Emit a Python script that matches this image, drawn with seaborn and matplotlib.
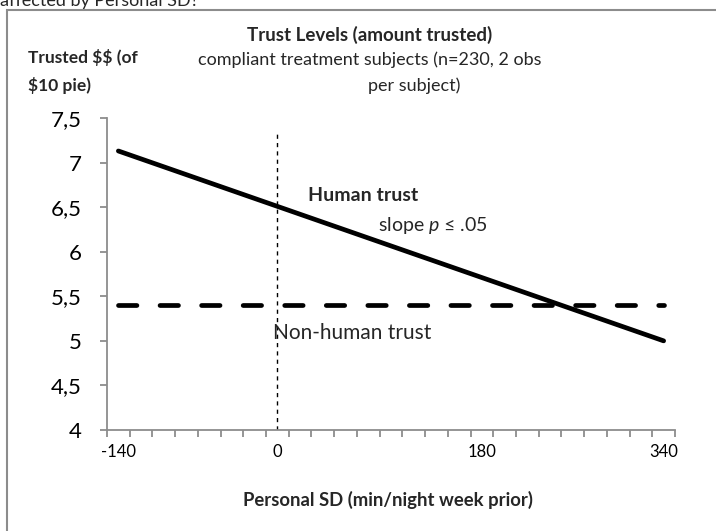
import numpy as np
import pandas as pd
import matplotlib
matplotlib.use("Agg")
import matplotlib.pyplot as plt
import seaborn as sns
from matplotlib.ticker import MultipleLocator, FixedLocator
from matplotlib.patches import Rectangle

# ------------------------
# data
# ------------------------
x_ends = [-140, 340]
human_trust = [7.13, 5.0]
nonhuman_trust = [5.4, 5.4]
ref_x = [0, 0]
ref_y = [4, 7.35]

x_ticks = [-140, 0, 180, 340]
x_tick_labels = ["-140", "0", "180", "340"]
y_ticks = [4, 4.5, 5, 5.5, 6, 6.5, 7, 7.5]
y_tick_labels = ["4", "4,5", "5", "5,5", "6", "6,5", "7", "7,5"]

df = pd.DataFrame({
    "sd": x_ends * 2,
    "trust": human_trust + nonhuman_trust,
    "group": ["Human trust"] * 2 + ["Non-human trust"] * 2,
})

# ------------------------
# style
# ------------------------
sns.set_style("white")
plt.rcParams["font.family"] = ["Lato", "DejaVu Sans"]
plt.rcParams["mathtext.fontset"] = "custom"
plt.rcParams["mathtext.it"] = "Lato:italic"
plt.rcParams["mathtext.rm"] = "Lato"

fig = plt.figure(figsize=(7.16, 5.31), dpi=100)
ax = fig.add_axes([107 / 716, 101 / 531, 568 / 716, 312 / 531])

sns.lineplot(data=df[df.group == "Human trust"], x="sd", y="trust",
             color="black", linewidth=3.4, ax=ax, legend=False)
sns.lineplot(data=df[df.group == "Non-human trust"], x="sd", y="trust",
             color="black", linewidth=3.4, ax=ax, legend=False)
ax.lines[1].set_dashes([3.9, 4.9])
ax.lines[1].set_dash_capstyle("round")
ax.lines[0].set_solid_capstyle("round")
ax.plot(ref_x, ref_y, color="black", linewidth=1, linestyle=(0, (3, 3)))

ax.set_xlim(-150, 350)
ax.set_ylim(4, 7.5)
ax.xaxis.set_major_locator(FixedLocator(x_ticks))
ax.set_xticklabels(x_tick_labels)
ax.xaxis.set_minor_locator(MultipleLocator(20, offset=10))
ax.set_yticks(y_ticks)
ax.set_yticklabels(y_tick_labels)

for side in ["top", "right"]:
    ax.spines[side].set_visible(False)
for side in ["left", "bottom"]:
    ax.spines[side].set_color("#8c8c8c")
    ax.spines[side].set_linewidth(1.3)

ax.tick_params(axis="x", which="major", bottom=True, length=0, pad=10, labelsize=12,
               colors="black")
ax.tick_params(axis="x", which="minor", bottom=True, length=5, width=1.3,
               color="#8c8c8c", direction="out")
ax.tick_params(axis="y", which="major", left=True, length=5, width=1.3, color="#8c8c8c",
               labelsize=16, pad=13, labelcolor="black", direction="out")
ax.set_xlabel("")
ax.set_ylabel("")

# ------------------------
# texts
# ------------------------
fig.text(0.0, 1 - 6 / 531, "affected by Personal SD?", fontsize=13, ha="left", va="baseline")
fig.text(370 / 716, 1 - 35 / 531, "Trust Levels (amount trusted)", fontsize=13.5,
         fontweight="bold", ha="center", va="center")
fig.text(370 / 716, 1 - 60 / 531, "compliant treatment subjects (n=230, 2 obs",
         fontsize=13, ha="center", va="center")
fig.text(414 / 716, 1 - 86 / 531, "per subject)", fontsize=13, ha="center", va="center")
fig.text(28 / 716, 1 - 58 / 531, r"Trusted \$\$ (of", fontsize=12.5, fontweight="bold",
         ha="left", va="center")
fig.text(28 / 716, 1 - 85 / 531, r"\$10 pie)", fontsize=12.5, fontweight="bold",
         ha="left", va="center")
fig.text(388 / 716, 1 - 500 / 531, "Personal SD (min/night week prior)", fontsize=13.3,
         fontweight="bold", ha="center", va="center")

ax.text(308 / 716, 1 - 195 / 531, "Human trust", transform=fig.transFigure,
        fontsize=14, fontweight="bold", ha="left", va="center")
ax.text(378 / 716, 1 - 225 / 531, r"slope $\it{p}$ ≤ .05", transform=fig.transFigure,
        fontsize=14, ha="left", va="center")
ax.text(273 / 716, 1 - 333 / 531, "Non-human trust", transform=fig.transFigure,
        fontsize=15, ha="left", va="center")

fig.patches.append(Rectangle((7 / 716, -0.1), 1.2, 1.1 - 10 / 531,
                             transform=fig.transFigure, fill=False,
                             edgecolor="#8c8c8c", linewidth=1.5))

fig.savefig("out.png", dpi=100)
